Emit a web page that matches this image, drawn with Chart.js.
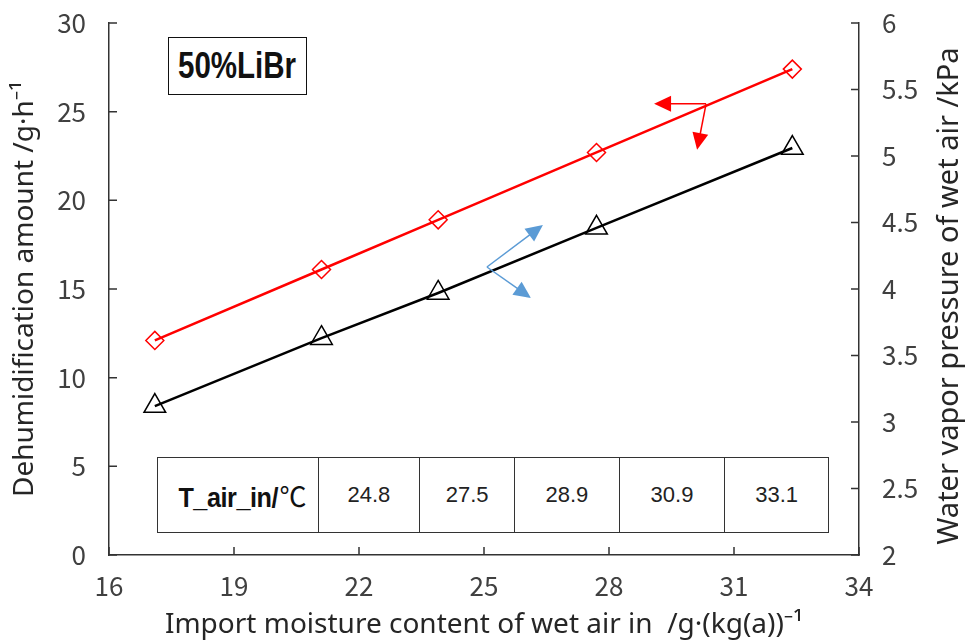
<!DOCTYPE html>
<html lang="en">
<head>
  <meta charset="UTF-8">
  <title>Dehumidification amount vs import moisture content</title>
  <script src="https://cdn.jsdelivr.net/npm/chart.js"></script>
  <style>
    body {
      margin: 0;
      background: #ffffff;
    }

    #wrap {
      position: relative;
      width: 969px;
      height: 644px;
    }

    #tag {
      position: absolute;
      left: 168px;
      top: 37px;
      width: 139px;
      height: 58px;
      box-sizing: border-box;
      border: 1.5px solid #111;
      display: flex;
      align-items: center;
      justify-content: center;
      background: #fff;
    }

    #tag span {
      font-family: 'Liberation Sans', Arial, sans-serif;
      font-weight: bold;
      font-size: 36px;
      color: #111;
      transform: scaleX(0.82);
      white-space: nowrap;
    }

    #temps {
      position: absolute;
      left: 157px;
      top: 457px;
      width: 672px;
      height: 76px;
      border-collapse: collapse;
      background: #fff;
    }

    #temps td {
      border: 1.5px solid #333;
      text-align: center;
      padding: 0;
      font-family: 'Liberation Sans', Arial, sans-serif;
      font-size: 22px;
      color: #222;
    }

    #temps td.head {
      font-weight: bold;
      font-size: 28px;
      color: #111;
      white-space: nowrap;
      letter-spacing: -0.5px;
    }

    #temps td.head span.b {
      display: inline-block;
      transform: scaleX(0.9);
      transform-origin: 85% 50%;
    }

    #temps td.head span.u {
      font-family: 'Noto Sans CJK SC', sans-serif;
      font-weight: normal;
      font-size: 27px;
      letter-spacing: 0;
    }
  </style>
</head>

<body>
  <div id="wrap">
    <canvas id="chart" width="969" height="644"></canvas>
    <div id="tag"><span>50%LiBr</span></div>
    <table id="temps"><tr id="tempRow"></tr></table>
  </div>

  <script>
    // values
    const moisture = [17.1, 21.1, 23.9, 27.7, 32.4];      // g/(kg(a))
    const dehumid = [12.1, 16.1, 18.9, 22.7, 27.4];       // g/h, left axis
    const vaporP = [3.12, 3.63, 3.97, 4.46, 5.06];        // kPa, right axis
    const airTemp = ['24.8', '27.5', '28.9', '30.9', '33.1'];
    const colWidths = [160, 102, 95, 105, 106, 104];

    // inlet temperature strip
    const row = document.getElementById('tempRow');
    const head = document.createElement('td');
    head.className = 'head';
    head.style.width = colWidths[0] + 'px';
    head.innerHTML = '<span class="b">T_air_in/</span><span class="u">℃</span>';
    row.appendChild(head);
    airTemp.forEach((t, i) => {
      const td = document.createElement('td');
      td.style.width = colWidths[i + 1] + 'px';
      td.textContent = t;
      row.appendChild(td);
    });

    const TICKFONT = "'Noto Sans CJK SC', 'Noto Sans', sans-serif";
    const TITLEFONT = "'Noto Sans', 'DejaVu Sans', sans-serif";
    const INK = '#333';

    // inward tick marks, the two pointer arrows and the right title
    const decor = {
      id: 'decor',
      afterDraw(chart) {
        const { ctx, chartArea } = chart;
        const sx = chart.scales.x, yl = chart.scales.y, yr = chart.scales.y2;
        ctx.save();
        ctx.strokeStyle = INK;
        ctx.lineWidth = 1.5;
        ctx.beginPath();
        sx.ticks.forEach(t => {
          const px = sx.getPixelForValue(t.value);
          ctx.moveTo(px, chartArea.bottom);
          ctx.lineTo(px, chartArea.bottom - 8);
        });
        yl.ticks.forEach(t => {
          const py = yl.getPixelForValue(t.value);
          ctx.moveTo(chartArea.left, py);
          ctx.lineTo(chartArea.left + 8, py);
        });
        yr.ticks.forEach(t => {
          const py = yr.getPixelForValue(t.value);
          ctx.moveTo(chartArea.right, py);
          ctx.lineTo(chartArea.right - 8, py);
        });
        ctx.stroke();

        const arrow = (x0, y0, dx, dy, color) => {
          const x1 = x0 + dx, y1 = y0 + dy;
          const a = Math.atan2(dy, dx);
          const len = 17, half = 8;
          ctx.strokeStyle = color;
          ctx.fillStyle = color;
          ctx.lineWidth = 1.5;
          ctx.beginPath();
          ctx.moveTo(x0, y0);
          ctx.lineTo(x1 - Math.cos(a) * len * 0.8, y1 - Math.sin(a) * len * 0.8);
          ctx.stroke();
          ctx.beginPath();
          ctx.moveTo(x1, y1);
          ctx.lineTo(x1 - Math.cos(a) * len - Math.sin(a) * half, y1 - Math.sin(a) * len + Math.cos(a) * half);
          ctx.lineTo(x1 - Math.cos(a) * len + Math.sin(a) * half, y1 - Math.sin(a) * len - Math.cos(a) * half);
          ctx.closePath();
          ctx.fill();
        };
        // red one points to the left axis
        const rx = sx.getPixelForValue(30.33), ry = yl.getPixelForValue(25.44);
        arrow(rx, ry, -52, 0, '#ff0000');
        arrow(rx, ry, -9, 46, '#ff0000');
        // blue one points to the right axis
        const bx = sx.getPixelForValue(25.07), by = yl.getPixelForValue(16.24);
        arrow(bx, by, 56, -42, '#5b9bd5');
        arrow(bx, by, 44, 31, '#5b9bd5');

        ctx.fillStyle = '#262626';
        ctx.font = '29px ' + TITLEFONT;
        ctx.textAlign = 'center';
        ctx.textBaseline = 'middle';
        ctx.translate(950, (chartArea.top + chartArea.bottom) / 2 + 7);
        ctx.rotate(-Math.PI / 2);
        ctx.fillText('Water vapor pressure of wet air /kPa', 0, 0);
        ctx.restore();
      }
    };

    const tickFont = { family: TICKFONT, size: 26 };
    const titleFont = { family: TITLEFONT, size: 28 };
    const plain = v => String(v);
    // tick marks are drawn by the plugin; tickLength only sets the label gap
    const noGrid = gap => ({ display: false, drawTicks: true, tickLength: gap });

    new Chart(document.getElementById('chart'), {
      type: 'scatter',
      data: {
        datasets: [
          {
            label: 'Dehumidification amount',
            data: moisture.map((x, i) => ({ x, y: dehumid[i] })),
            yAxisID: 'y',
            showLine: true,
            borderColor: '#ff0000',
            borderWidth: 2.5,
            pointStyle: 'rectRot',
            pointRadius: 9,
            pointBorderWidth: 1.5,
            pointBorderColor: '#ff0000',
            pointBackgroundColor: 'rgba(255,255,255,0)'
          },
          {
            label: 'Water vapor pressure',
            data: moisture.map((x, i) => ({ x, y: vaporP[i] })),
            yAxisID: 'y2',
            showLine: true,
            borderColor: '#000000',
            borderWidth: 2.5,
            pointStyle: 'triangle',
            pointRadius: 12.5,
            pointBorderWidth: 1.5,
            pointBorderColor: '#000000',
            pointBackgroundColor: 'rgba(255,255,255,0)'
          }
        ]
      },
      options: {
        responsive: false,
        animation: false,
        devicePixelRatio: 1,
        layout: { padding: { top: 23, left: 0, right: 0, bottom: 0 } },
        plugins: {
          legend: { display: false },
          tooltip: { enabled: false }
        },
        scales: {
          x: {
            type: 'linear',
            min: 16,
            max: 34,
            afterFit: s => { s.height = 89; },
            ticks: { stepSize: 3, color: '#404040', font: tickFont, padding: 0, callback: plain },
            grid: noGrid(16),
            border: { display: true, color: INK, width: 1.5 },
            title: {
              display: true,
              text: 'Import moisture content of wet air in  /g·(kg(a))⁻¹',
              color: '#262626',
              font: titleFont,
              padding: { top: 0, bottom: 2 }
            }
          },
          y: {
            position: 'left',
            min: 0,
            max: 30,
            afterFit: s => { s.width = 109; },
            ticks: { stepSize: 5, color: '#404040', font: tickFont, padding: 0, callback: plain },
            grid: noGrid(23),
            border: { display: true, color: INK, width: 1.5 },
            title: {
              display: true,
              text: 'Dehumidification amount /g·h⁻¹',
              color: '#262626',
              font: titleFont,
              padding: { top: 8, bottom: 0 }
            }
          },
          y2: {
            position: 'right',
            min: 2,
            max: 6,
            afterFit: s => { s.width = 110; },
            ticks: { stepSize: 0.5, color: '#404040', font: tickFont, padding: 0, callback: plain },
            grid: noGrid(23),
            border: { display: true, color: INK, width: 1.5 }
          }
        }
      },
      plugins: [decor]
    });
  </script>
</body>

</html>
